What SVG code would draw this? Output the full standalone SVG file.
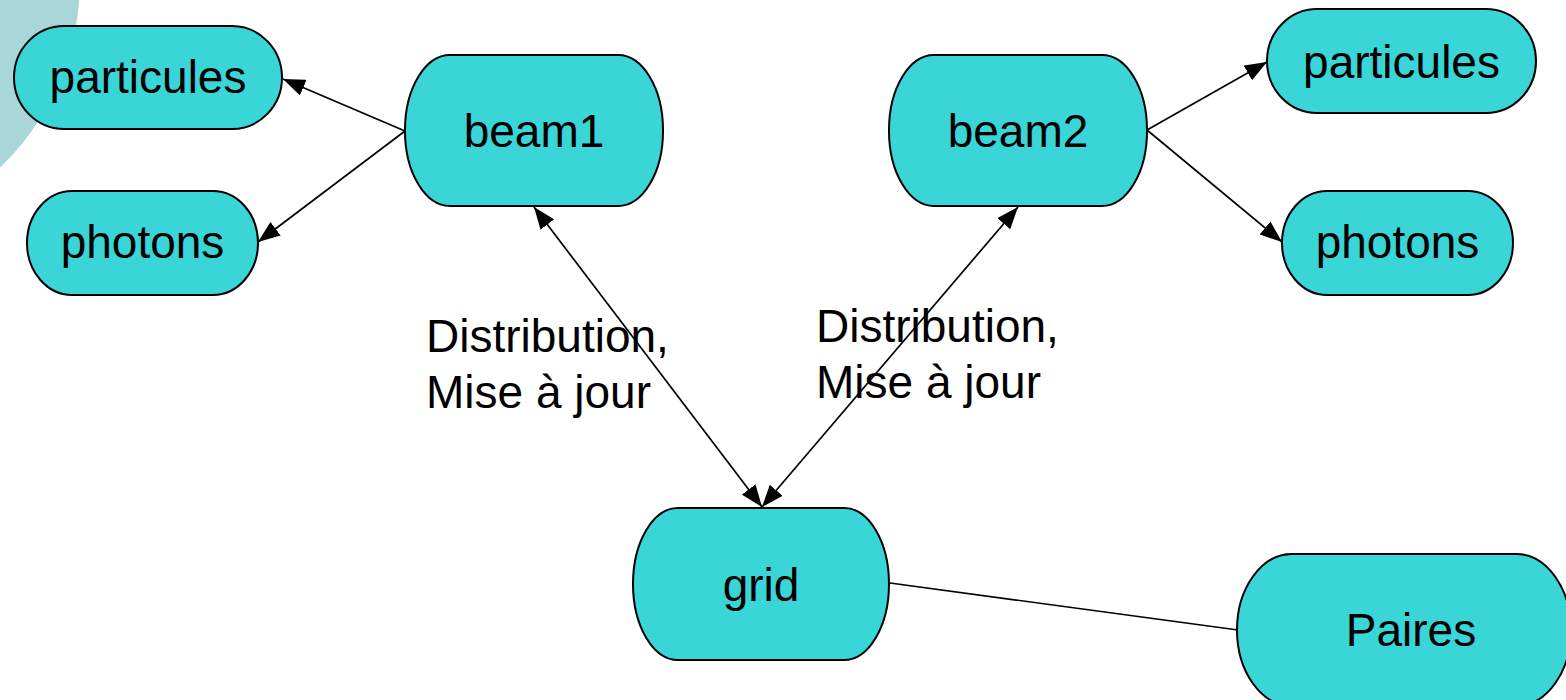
<svg xmlns="http://www.w3.org/2000/svg" width="1566" height="700" viewBox="0 0 1566 700">
<defs>
<style>
.node rect{fill:#3AD5D6;stroke:#000;stroke-width:2}
.node text,.label{font-family:"Liberation Sans",Arial,sans-serif;font-size:46px;fill:#000}
.node text{text-anchor:middle}
.edge{stroke:#000;stroke-width:1.7;fill:none}
</style>
<marker id="ah" viewBox="0 0 22 17" refX="22" refY="8.5" markerWidth="22" markerHeight="17" markerUnits="userSpaceOnUse" orient="auto-start-reverse">
<path d="M0,0 L22,8.5 L0,17 Z" fill="#000"/>
</marker>
</defs>
<rect width="1566" height="700" fill="#fff"/>
<circle cx="-180" cy="-20" r="260" fill="#A9D6D8"/>
<g id="connectors">
<line class="edge" x1="405" y1="131" x2="283" y2="79" marker-end="url(#ah)"/>
<line class="edge" x1="405" y1="131" x2="258" y2="242" marker-end="url(#ah)"/>
<line class="edge" x1="534" y1="207" x2="762" y2="507" marker-start="url(#ah)" marker-end="url(#ah)"/>
<line class="edge" x1="1018" y1="207" x2="762" y2="507" marker-start="url(#ah)" marker-end="url(#ah)"/>
<line class="edge" x1="1147" y1="130" x2="1267" y2="62" marker-end="url(#ah)"/>
<line class="edge" x1="1147" y1="130" x2="1282" y2="242" marker-end="url(#ah)"/>
<line class="edge" x1="890" y1="583" x2="1238" y2="630"/>
</g>
<g id="particules1" class="node"><rect x="14" y="26" width="268" height="103" rx="50" ry="51.5"/><text x="148" y="93">particules</text></g>
<g id="photons1" class="node"><rect x="27" y="191" width="231" height="104" rx="45" ry="52"/><text x="142.5" y="258">photons</text></g>
<g id="beam1" class="node"><rect x="405" y="55" width="258" height="151" rx="45" ry="75"/><text x="534" y="147">beam1</text></g>
<g id="beam2" class="node"><rect x="889" y="55" width="258" height="151" rx="45" ry="75"/><text x="1018" y="147">beam2</text></g>
<g id="particules2" class="node"><rect x="1267" y="9" width="269" height="104" rx="50" ry="52"/><text x="1401.5" y="78">particules</text></g>
<g id="photons2" class="node"><rect x="1282" y="191" width="231" height="104" rx="45" ry="52"/><text x="1397.5" y="258">photons</text></g>
<g id="grid" class="node"><rect x="633" y="508" width="256" height="152" rx="45" ry="76"/><text x="761" y="601">grid</text></g>
<g id="paires" class="node"><rect x="1237" y="554" width="334" height="152" rx="55" ry="76"/><text x="1411" y="646">Paires</text></g>
<g id="labels">
<text class="label" x="426" y="352">Distribution,</text>
<text class="label" x="426" y="408">Mise à jour</text>
<text class="label" x="816" y="342">Distribution,</text>
<text class="label" x="816" y="398">Mise à jour</text>
</g>
</svg>
